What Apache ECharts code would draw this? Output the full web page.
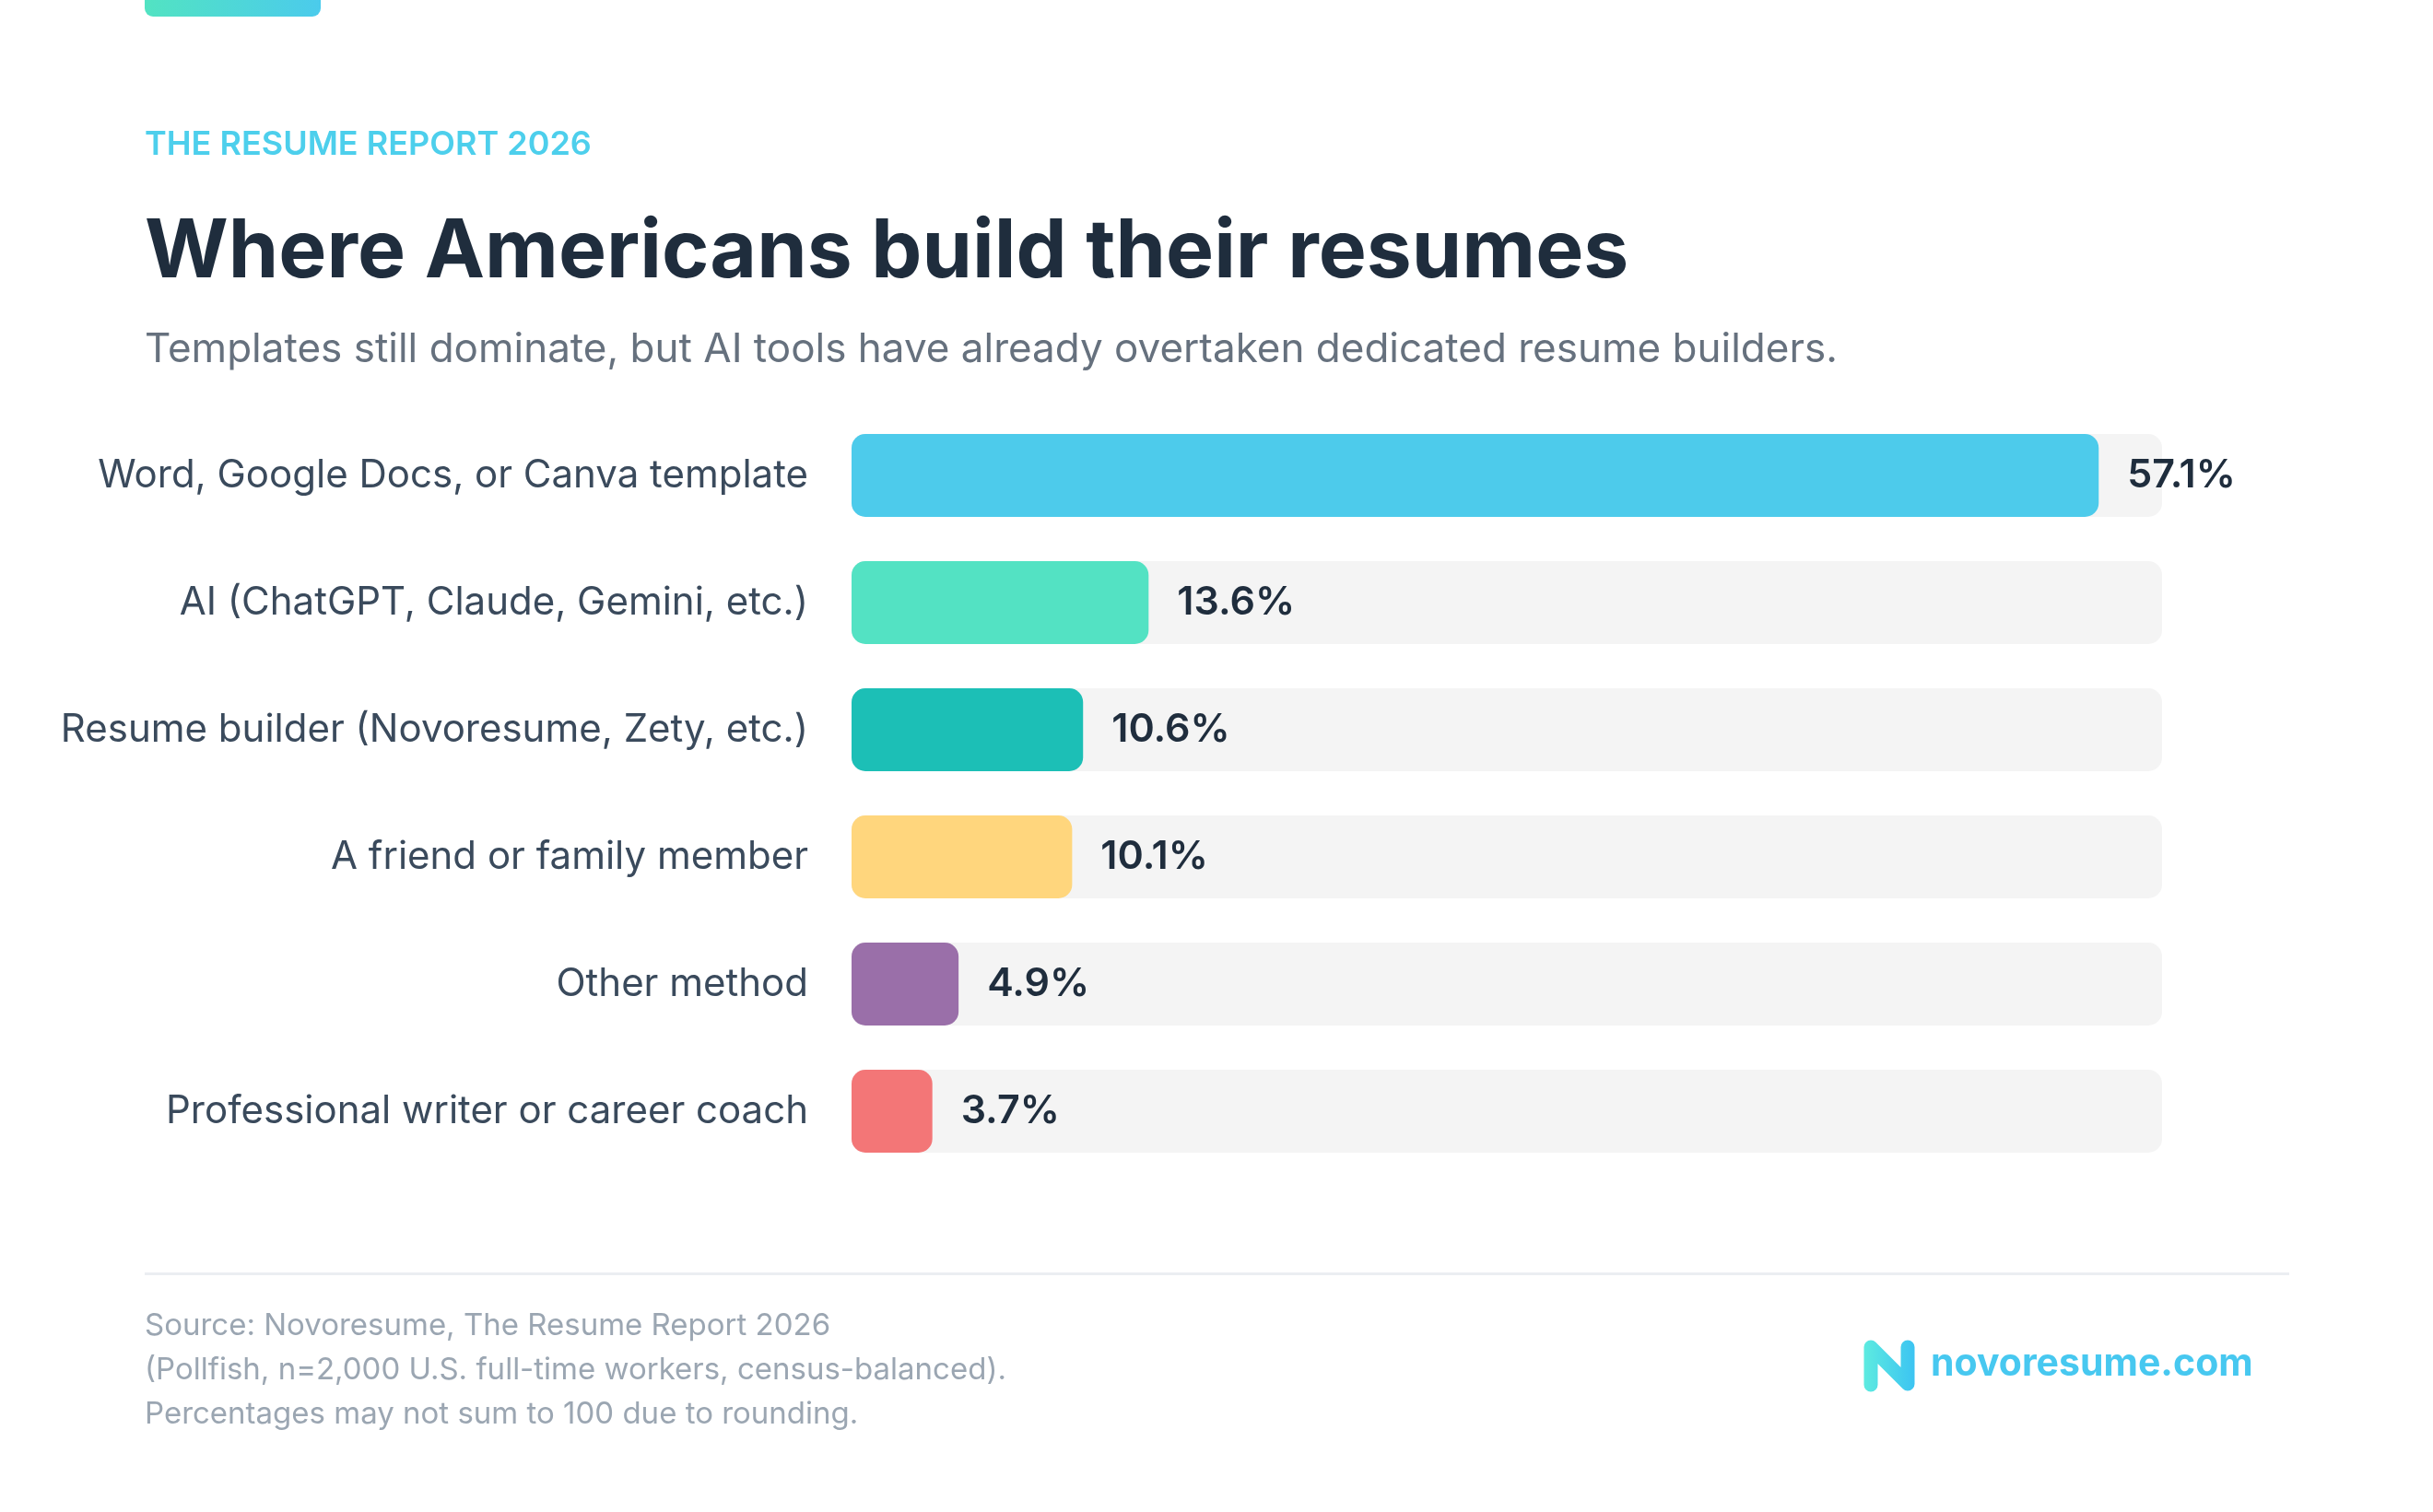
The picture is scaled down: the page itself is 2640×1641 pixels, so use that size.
<!DOCTYPE html>
<html>
<head>
<meta charset="utf-8">
<script src="https://cdn.jsdelivr.net/npm/echarts@6.0.0/dist/echarts.min.js"></script>
<style>
  html, body { margin: 0; padding: 0; background: #ffffff; }
  #chart { width: 2640px; height: 1641px; }
</style>
</head>
<body>
<div id="chart"></div>
<script>
const categories = [
  "Word, Google Docs, or Canva template",
  "AI (ChatGPT, Claude, Gemini, etc.)",
  "Resume builder (Novoresume, Zety, etc.)",
  "A friend or family member",
  "Other method",
  "Professional writer or career coach",
];
const values = [57.1, 13.6, 10.6, 10.1, 4.9, 3.7];
const axisMax = 60;

const barColors = ["#4DCBEB", "#53E2C3", "#1CBFB6", "#FFD67D", "#9A6FA9", "#F37677"];

const kicker = "THE RESUME REPORT 2026";
const headline = "Where Americans build their resumes";
const subline = "Templates still dominate, but AI tools have already overtaken dedicated resume builders.";
const sourceLines = [
  "Source: Novoresume, The Resume Report 2026",
  "(Pollfish, n=2,000 U.S. full-time workers, census-balanced).",
  "Percentages may not sum to 100 due to rounding.",
];
const brand = "novoresume.com";

const FONT = "Inter, 'Noto Sans', sans-serif";

const chart = echarts.init(document.getElementById("chart"), null, { renderer: "canvas" });

function txt(text, x, y, font, fill, align) {
  return {
    type: "text",
    style: {
      text: text,
      x: x,
      y: y,
      font: font,
      fill: fill,
      textAlign: align || "left",
      textVerticalAlign: "middle",
    },
  };
}

const graphics = [
  // accent strip on top
  {
    type: "rect",
    shape: { x: 157, y: -10, width: 191, height: 28, r: 9 },
    style: {
      fill: new echarts.graphic.LinearGradient(0, 0, 1, 0, [
        { offset: 0, color: "#52E3C2" },
        { offset: 1, color: "#4BCBEC" },
      ]),
    },
  },
  txt(kicker, 157, 157, "600 36px " + FONT, "#4DCFEC"),
  txt(headline, 157, 275, "bold 87.5px " + FONT, "#1F2D3D"),
  txt(subline, 157, 380, "400 44px " + FONT, "#66717E"),
  // separator
  {
    type: "rect",
    shape: { x: 157, y: 1381, width: 2327, height: 3 },
    style: { fill: "#EBEEF2" },
  },
  // brand mark
  {
    type: "polyline",
    shape: { points: [[2030, 1503], [2030, 1462], [2070, 1502], [2070, 1462]] },
    style: {
      fill: null,
      lineWidth: 15,
      lineCap: "round",
      lineJoin: "round",
      stroke: new echarts.graphic.LinearGradient(0, 0, 1, 0, [
        { offset: 0, color: "#5DEBE0" },
        { offset: 1, color: "#3CC4F2" },
      ]),
    },
  },
  txt(brand, 2095, 1481, "bold 41px " + FONT, "#47C8F0"),
];
sourceLines.forEach(function (line, i) {
  graphics.push(txt(line, 157, 1439 + i * 48, "400 33px " + FONT, "#9BA6B2"));
});

chart.setOption({
  backgroundColor: "#ffffff",
  animation: false,
  graphic: graphics,
  grid: { left: 924, right: 294, top: 447, bottom: 366, containLabel: false },
  xAxis: {
    type: "value",
    min: 0,
    max: axisMax,
    show: false,
  },
  yAxis: {
    type: "category",
    data: categories,
    inverse: true,
    axisLine: { show: false },
    axisTick: { show: false },
    axisLabel: {
      margin: 47,
      fontSize: 42,
      fontFamily: FONT,
      color: "#3A4A5C",
    },
  },
  series: [
    {
      type: "bar",
      barWidth: 90,
      data: values.map(function (v, i) {
        return { value: v, itemStyle: { color: barColors[i] } };
      }),
      itemStyle: { borderRadius: 15 },
      showBackground: true,
      backgroundStyle: { color: "#F4F4F4", borderRadius: 15 },
      label: {
        show: true,
        position: "right",
        distance: 31,
        formatter: function (p) { return p.value.toFixed(1) + "%"; },
        fontSize: 43,
        fontWeight: 600,
        fontFamily: FONT,
        color: "#1F2D3D",
      },
    },
  ],
});

window.addEventListener("resize", function () { chart.resize(); });
</script>
</body>
</html>
